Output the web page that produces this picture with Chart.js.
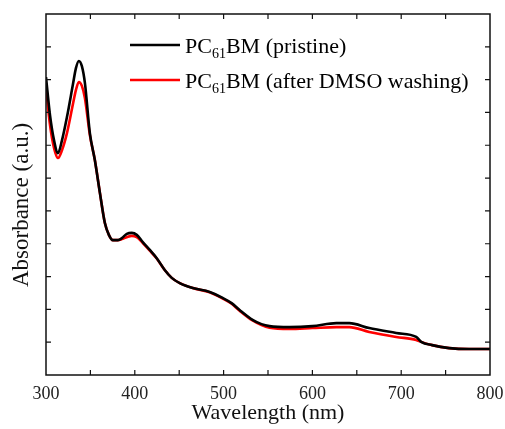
<!DOCTYPE html>
<html>
<head>
<meta charset="utf-8">
<script src="https://cdn.jsdelivr.net/npm/chart.js@4"></script>
<style>
  html, body { margin: 0; padding: 0; background: #fff; }
  #wrap { width: 505px; height: 429px; }
</style>
</head>
<body>
<div id="wrap"><canvas id="chart" width="505" height="429"></canvas></div>
<script>
// wavelength (nm) and absorbance (arb. units)
let wl_black = [300,304.5,309,313.5,318,323.6,330.3,333.7,337,340.4,343.8,349.4,355,360.7,366.3,370.8,375.3,381,385.4,391,396.6,402.2,409,416.9,424.7,433.7,441.6,450.6,465.2,484.3,498.9,509,518,532.6,542.7,551.7,574.2,600,627,641.6,664,694.4,716.9,722.5,734.8,754,776.4,800];
let abs_black = [9.08,7.92,7.16,6.76,7.15,7.86,8.85,9.35,9.57,9.41,8.90,7.37,6.55,5.55,4.63,4.27,4.11,4.11,4.17,4.30,4.33,4.27,4.05,3.81,3.56,3.20,2.96,2.80,2.65,2.53,2.35,2.19,1.98,1.68,1.55,1.49,1.46,1.49,1.58,1.58,1.43,1.28,1.16,1.01,0.91,0.82,0.79,0.79];

let wl_red = [300,304.5,309,313.5,318,323.6,330.3,333.7,337,340.4,343.8,349.4,355,360.7,366.3,370.8,375.3,381,385.4,391,396.6,402.2,409,416.9,424.7,433.7,441.6,450.6,465.2,484.3,498.9,509,518,532.6,542.7,551.7,574.2,600,627,641.6,664,694.4,716.9,722.5,734.8,754,776.4,800];
let abs_red = [8.74,7.62,6.92,6.61,6.85,7.37,8.25,8.68,8.93,8.81,8.44,7.31,6.55,5.55,4.63,4.27,4.11,4.11,4.14,4.20,4.24,4.20,4.02,3.79,3.55,3.20,2.96,2.80,2.65,2.52,2.33,2.17,1.96,1.66,1.52,1.44,1.40,1.43,1.46,1.46,1.31,1.16,1.07,1.01,0.91,0.82,0.79,0.79];

let series_names = ['pristine', 'after DMSO washing'];
let x_ticks = [300,400,500,600,700,800];

const serif = '"Liberation Serif", "Times New Roman", serif';

function pts(xs, ys)
{
    return xs.map((x, i) => ({x: x, y: ys[i]}));
}

// frame with inward ticks on all four sides, y title, legend with subscript
const frame = {
    id: 'frame',
    afterDraw(chart) {
        const ctx = chart.ctx;
        const a = chart.chartArea;
        const xs = chart.scales.x, ys = chart.scales.y;
        ctx.save();
        ctx.strokeStyle = '#111';
        ctx.lineWidth = 1.5;
        ctx.strokeRect(a.left, a.top, a.right - a.left, a.bottom - a.top);
        ctx.lineWidth = 1.2;
        ctx.beginPath();
        for (let v = xs.min + 50; v < xs.max; v += 50) {
            const p = xs.getPixelForValue(v);
            ctx.moveTo(p, a.bottom); ctx.lineTo(p, a.bottom - 5);
            ctx.moveTo(p, a.top); ctx.lineTo(p, a.top + 5);
        }
        for (let v = ys.min + 1; v < ys.max; v += 1) {
            const p = ys.getPixelForValue(v);
            ctx.moveTo(a.left, p); ctx.lineTo(a.left + 5, p);
            ctx.moveTo(a.right, p); ctx.lineTo(a.right - 5, p);
        }
        ctx.stroke();

        // y axis title
        ctx.save();
        ctx.translate(22, 205);
        ctx.rotate(-Math.PI / 2);
        ctx.fillStyle = '#111';
        ctx.font = '23px ' + serif;
        ctx.textAlign = 'center';
        ctx.textBaseline = 'middle';
        ctx.fillText('Absorbance (a.u.)', 0, 0);
        ctx.restore();

        // legend
        const colors = ['#000', '#ff0000'];
        const rows = [45, 80];
        ctx.textBaseline = 'alphabetic';
        rows.forEach((y, i) => {
            ctx.strokeStyle = colors[i];
            ctx.lineWidth = 2.5;
            ctx.beginPath();
            ctx.moveTo(130, y); ctx.lineTo(180, y);
            ctx.stroke();
            ctx.fillStyle = '#000';
            let x = 185;
            const base = y + 8;
            ctx.font = '22px ' + serif;
            ctx.fillText('PC', x, base);
            x += ctx.measureText('PC').width;
            ctx.font = '14px ' + serif;
            ctx.fillText('61', x, base + 5);
            x += ctx.measureText('61').width;
            ctx.font = '22px ' + serif;
            ctx.fillText('BM (' + series_names[i] + ')', x, base);
        });
        ctx.restore();
    }
};

const config = {
    type: 'line',
    data: {
        datasets: [
            {
                label: series_names[0],
                data: pts(wl_black, abs_black),
                borderColor: '#000',
                borderWidth: 2.6,
                pointRadius: 0,
                tension: 0.4,
                cubicInterpolationMode: 'monotone'
            },
            {
                label: series_names[1],
                data: pts(wl_red, abs_red),
                borderColor: '#ff0000',
                borderWidth: 2.6,
                pointRadius: 0,
                tension: 0.4,
                cubicInterpolationMode: 'monotone'
            }
        ]
    },
    options: {
        responsive: false,
        animation: false,
        layout: { padding: { top: 14, right: 15, left: 0, bottom: 0 } },
        plugins: { legend: { display: false }, tooltip: { enabled: false } },
        scales: {
            x: {
                type: 'linear',
                min: 300,
                max: 800,
                afterBuildTicks: s => { s.ticks = x_ticks.map(v => ({value: v})); },
                afterFit: s => { s.height = 54; s.paddingLeft = 0; s.paddingRight = 0; },
                grid: { display: false, drawTicks: false },
                border: { display: false },
                ticks: { color: '#222', padding: 8, maxRotation: 0, font: { family: serif, size: 18 } },
                title: { display: true, text: 'Wavelength (nm)', color: '#111', padding: { top: 0, bottom: 3 }, font: { family: serif, size: 22 } }
            },
            y: {
                min: 0,
                max: 11,
                afterFit: s => { s.width = 46; },
                grid: { display: false, drawTicks: false },
                border: { display: false },
                ticks: { display: false },
                title: { display: false }
            }
        }
    },
    plugins: [frame]
};

new Chart(document.getElementById('chart'), config);
</script>
</body>
</html>
